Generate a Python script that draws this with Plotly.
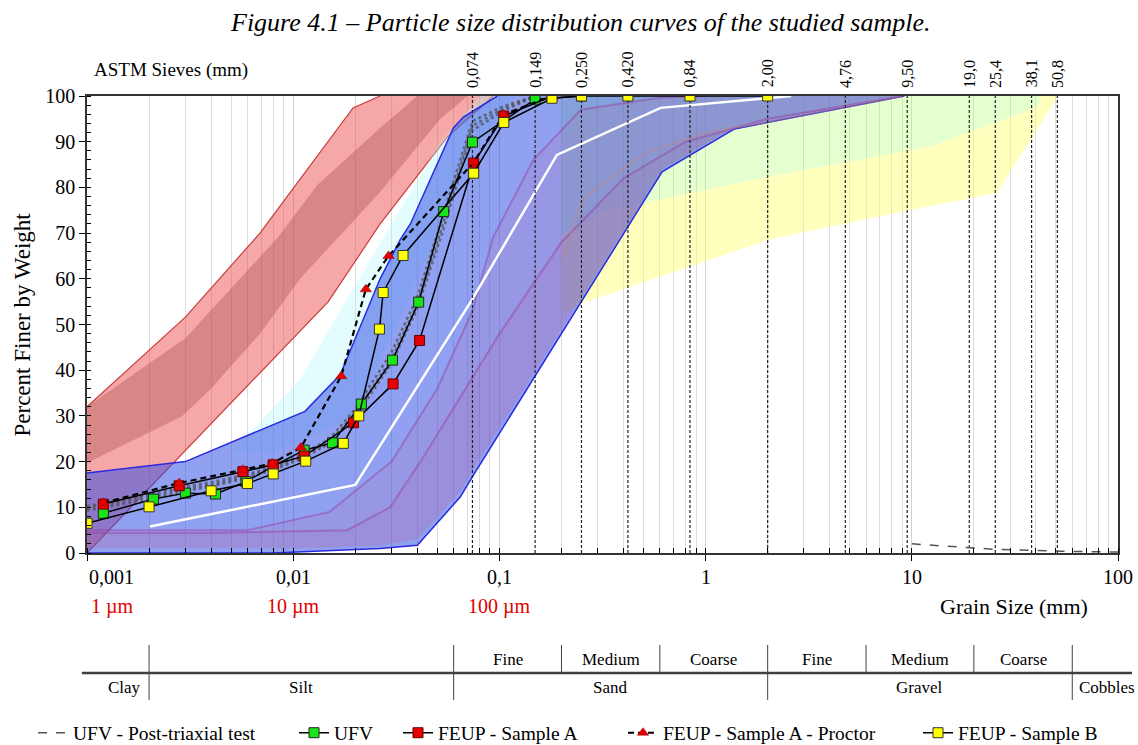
import math
import plotly.graph_objects as go

# ---------------- data ----------------
sieve_mm = [0.074, 0.149, 0.250, 0.420, 0.84, 2.00, 4.76, 9.50, 19.0, 25.4, 38.1, 50.8]
sieve_lbl = ["0,074", "0,149", "0,250", "0,420", "0,84", "2,00", "4,76", "9,50", "19,0", "25,4", "38,1", "50,8"]

grain_ticks = [0.001, 0.01, 0.1, 1, 10, 100]
grain_tick_lbl = ["0,001", "0,01", "0,1", "1", "10", "100"]
micron_pos = [0.001, 0.01, 0.1]
micron_lbl = ["1 µm", "10 µm", "100 µm"]

full_bounds = [0.002, 0.06, 2.0, 60.0]
sub_bounds = [0.2, 0.6, 6.0, 20.0]
sub_lbl = ["Fine", "Medium", "Coarse", "Fine", "Medium", "Coarse"]
sub_lo = [0.06, 0.2, 0.6, 2.0, 6.0, 20.0]
sub_hi = [0.2, 0.6, 2.0, 6.0, 20.0, 60.0]
main_lbl = ["Clay", "Silt", "Sand", "Gravel", "Cobbles"]
main_lo = [0.001, 0.002, 0.06, 2.0, 60.0]
main_hi = [0.0023, 0.06, 2.0, 60.0, 130.0]

# measured curves
ufv_d = [0.0012, 0.0021, 0.003, 0.0042, 0.0059, 0.008, 0.0113, 0.0155, 0.0214, 0.0303, 0.0406, 0.0537, 0.074, 0.149, 0.25]
ufv_p = [8.7, 11.8, 13.1, 12.9, 15.6, 19.0, 22.5, 24.1, 32.6, 42.2, 54.9, 74.7, 89.9, 99.3, 100]

feupA_d = [0.0012, 0.0028, 0.0057, 0.008, 0.0113, 0.0196, 0.0305, 0.041, 0.075, 0.105, 0.18]
feupA_p = [10.7, 14.7, 17.8, 19.3, 21.2, 28.5, 37.0, 46.5, 85.3, 95.6, 100]

proctor_d = [0.0012, 0.0028, 0.0057, 0.0079, 0.0109, 0.0171, 0.0225, 0.029, 0.075, 0.105, 0.18]
proctor_p = [11.0, 15.3, 18.2, 19.6, 23.1, 38.7, 57.7, 65.0, 85.5, 96.0, 100]

feupB_d = [0.001, 0.002, 0.004, 0.006, 0.008, 0.0115, 0.0175, 0.0208, 0.0262, 0.0273, 0.0341, 0.075, 0.105, 0.18, 0.25, 0.42, 0.84, 2.0]
feupB_p = [6.5, 10.1, 13.6, 15.2, 17.3, 20.1, 24.0, 30.0, 49.0, 57.0, 65.1, 83.1, 94.2, 99.5, 100, 100, 100, 100]

post_d = [0.001, 0.002, 0.003, 0.004, 0.006, 0.008, 0.011, 0.015, 0.02, 0.03, 0.04, 0.055, 0.074, 0.105, 0.15]
post1_p = [10.2, 12.8, 14.5, 15.5, 17.2, 19.0, 21.5, 25.0, 31.5, 44.0, 56.0, 76.0, 94.5, 97.8, 100]
post2_p = [9.8, 12.3, 14.0, 15.0, 16.8, 18.6, 21.0, 24.4, 30.5, 42.5, 54.5, 74.0, 93.5, 97.3, 100]
post3_p = [9.3, 11.8, 13.5, 14.6, 16.4, 18.2, 20.6, 24.0, 29.8, 41.5, 53.5, 72.5, 92.5, 96.8, 100]
post_gravel_d = [10.0, 19.0, 25.4, 50.8, 100.0]
post_gravel_p = [2.0, 1.1, 0.8, 0.4, 0.2]

# reference envelopes
red_up_d = [0.001, 0.003, 0.0069, 0.0195, 0.0264]
red_up_p = [32, 51.6, 70, 97.4, 100]
red_m1_d = [0.001, 0.0029, 0.004, 0.0069, 0.0108, 0.0264, 0.0517, 0.07]
red_m1_p = [19.7, 30, 36, 48, 60, 79, 95, 100]
red_m2_d = [0.001, 0.003, 0.0084, 0.0131, 0.0264, 0.04]
red_m2_p = [32, 47, 69, 80.5, 93, 100]
red_lo_d = [0.001, 0.0148, 0.0264, 0.0559, 0.0935]
red_lo_p = [0, 55, 72, 91, 100]

cyan_d = [0.005, 0.0108, 0.0169, 0.0517, 0.0809, 0.12, 0.08, 0.04, 0.02, 0.008]
cyan_p = [22, 38, 53, 90, 100, 100, 90, 60, 30, 22]

blue_up_d = [0.001, 0.003, 0.0114, 0.0169, 0.0264, 0.033, 0.037, 0.0598, 0.0669, 0.0977]
blue_up_p = [17.5, 20, 31, 39, 60, 68.5, 72, 93, 95.4, 100]
blue_lo_d = [0.001, 0.008, 0.0264, 0.04, 0.0647, 0.074, 0.615, 1.38, 9.2]
blue_lo_p = [0, 0, 1.0, 1.7, 12.3, 16.7, 83.4, 92.8, 100]

# purple (fine-sand) band seen through the blue envelope
pur_up_d = [0.001, 0.006, 0.015, 0.03, 0.05, 0.074, 0.093, 0.146, 0.248, 0.6, 1.0]
pur_up_p = [5, 5, 9, 20, 36, 53, 69, 86, 97, 99.6, 100]
pur_mid_d = [0.001, 0.004, 0.0183, 0.0295, 0.0428, 0.0647, 0.098, 0.117, 0.2, 0.4, 0.8, 2.0, 9.0]
pur_mid_p = [4.4, 4.4, 5, 10, 21, 34, 47.3, 52.5, 68, 82, 90, 95, 100]
pur_lo_d = [0.001, 0.01, 0.0264, 0.04, 0.0647, 0.074, 0.615, 1.38, 9.2]
pur_lo_p = [1, 1, 1.6, 3, 13.5, 18, 84, 93.2, 100]
tan_d = [0.2, 0.256, 0.52, 1.0, 1.86, 3.6, 9.0]
tan_p = [64, 77.7, 87.7, 92, 94, 96.5, 100]

green_lo_d = [0.2, 0.338, 2.0, 12.4, 40.9, 42.0]
green_lo_p = [70, 75, 82.3, 89, 97.6, 100]
yellow_lo_d = [0.2, 0.253, 2.0, 9.6, 25.9, 51.1]
yellow_lo_p = [52, 54.7, 68.5, 75, 78.8, 100]

white_d = [0.00202, 0.02, 0.0736, 0.19, 0.605, 2.6]
white_p = [5.8, 14.9, 55.4, 87.1, 97.4, 100]

SERIF = "Liberation Serif"


def frac(v):
    return (math.log10(v) + 3) / 5.0


fig = go.Figure()


def poly(xu, yu, xl, yl, color, line_color=None, lw=0):
    fig.add_trace(go.Scatter(
        x=list(xu) + list(xl)[::-1], y=list(yu) + list(yl)[::-1],
        mode="lines", fill="toself", fillcolor=color,
        line=dict(color=line_color or "rgba(0,0,0,0)", width=lw),
        hoverinfo="skip", showlegend=False))


def edge(x, y, color, w=1.0, dash="solid"):
    fig.add_trace(go.Scatter(x=x, y=y, mode="lines", line=dict(color=color, width=w, dash=dash),
                             hoverinfo="skip", showlegend=False))


# gravel envelopes
poly(green_lo_d + [0.2], green_lo_p + [100], [0.2], [100], "rgba(175,255,110,0.33)")
poly(green_lo_d, green_lo_p, yellow_lo_d, yellow_lo_p, "rgba(255,255,110,0.45)")
# red (fine) band: light fill + darker inner band
poly(red_up_d, red_up_p, red_lo_d, red_lo_p, "rgba(235,60,60,0.45)")
poly(red_m2_d, red_m2_p, red_m1_d, red_m1_p, "rgba(150,60,60,0.30)")
edge(red_up_d, red_up_p, "#c83c3c", 1.2)
edge(red_lo_d, red_lo_p, "#c83c3c", 1.2)
# cyan band
fig.add_trace(go.Scatter(x=cyan_d, y=cyan_p, mode="lines", fill="toself",
                         fillcolor="rgba(175,245,250,0.35)", line=dict(width=0, color="rgba(0,0,0,0)"),
                         hoverinfo="skip", showlegend=False))
# blue envelope
poly(blue_up_d, blue_up_p, blue_lo_d, blue_lo_p, "rgba(45,75,230,0.52)")
edge(blue_up_d, blue_up_p, "#2a2ae0", 1.5)
edge(blue_lo_d, blue_lo_p, "#2a2ae0", 1.5)
# purple band inside blue
poly(pur_up_d, pur_up_p, pur_lo_d, pur_lo_p, "rgba(200,80,140,0.12)")
poly(pur_mid_d, pur_mid_p, pur_lo_d, pur_lo_p, "rgba(190,80,140,0.12)")
edge(pur_up_d, pur_up_p, "rgba(150,60,160,0.45)", 2)
edge(pur_mid_d, pur_mid_p, "rgba(150,60,160,0.45)", 2)
edge(tan_d, tan_p, "rgba(190,130,130,0.45)", 2)
# white curve
edge(white_d, white_p, "white", 2.5)

# sieve lines
sx, sy = [], []
for s in sieve_mm:
    sx += [s, s, None]
    sy += [0, 100, None]
fig.add_trace(go.Scatter(x=sx, y=sy, mode="lines", line=dict(color="#222222", width=1.2, dash="3px,2px"),
                         hoverinfo="skip", showlegend=False))

# post-triaxial curves
for p in [post1_p, post2_p, post3_p]:
    fig.add_trace(go.Scatter(x=post_d, y=p, mode="lines",
                             line=dict(color="rgba(80,80,80,0.75)", width=2.5, dash="dot"),
                             name="UFV - Post-triaxial test", legendgroup="post",
                             showlegend=False, hoverinfo="skip"))
fig.add_trace(go.Scatter(x=post_gravel_d, y=post_gravel_p, mode="lines",
                         line=dict(color="#555555", width=1.5, dash="dash"),
                         name="UFV - Post-triaxial test", legendgroup="post", showlegend=True,
                         legend="legend"))

fig.add_trace(go.Scatter(x=ufv_d, y=ufv_p, mode="lines+markers", name="UFV", legend="legend2",
                         line=dict(color="black", width=1.5),
                         marker=dict(symbol="square", size=10, color="#19e619",
                                     line=dict(color="#222", width=1))))
fig.add_trace(go.Scatter(x=feupA_d, y=feupA_p, mode="lines+markers", name="FEUP - Sample A", legend="legend3",
                         line=dict(color="black", width=1.5),
                         marker=dict(symbol="square", size=10, color="#e60000",
                                     line=dict(color="#600", width=1))))
fig.add_trace(go.Scatter(x=proctor_d, y=proctor_p, mode="lines+markers", name="FEUP - Sample A - Proctor",
                         legend="legend4",
                         line=dict(color="black", width=2.2, dash="6px,4px"),
                         marker=dict(symbol="triangle-up", size=10, color="#e60000",
                                     line=dict(color="#900", width=0.5))))
fig.add_trace(go.Scatter(x=feupB_d, y=feupB_p, mode="lines+markers", name="FEUP - Sample B", legend="legend5",
                         line=dict(color="black", width=1.5),
                         marker=dict(symbol="square", size=10, color="#ffff00",
                                     line=dict(color="#333", width=1))))

# ---------------- annotations ----------------
ann = []
ann.append(dict(text="<i>Figure 4.1 – Particle size distribution curves of the studied sample.</i>",
                xref="paper", yref="paper", x=0.479, y=(553 - 22) / 457, showarrow=False,
                font=dict(family=SERIF, size=26, color="black"), xanchor="center", yanchor="middle"))
ann.append(dict(text="ASTM Sieves (mm)", xref="paper", yref="paper", x=0.005, y=(553 - 70) / 457,
                showarrow=False, xanchor="left", yanchor="middle",
                font=dict(family=SERIF, size=19, color="black")))
ann.append(dict(text="Percent Finer by Weight", xref="paper", yref="paper", x=(22 - 87) / 1031, y=0.5,
                textangle=-90, showarrow=False, xanchor="center", yanchor="middle",
                font=dict(family=SERIF, size=23, color="black")))
for s, l in zip(sieve_mm, sieve_lbl):
    ann.append(dict(text=l, xref="paper", yref="paper", x=frac(s), y=1.014, textangle=-90,
                    showarrow=False, xanchor="center", yanchor="bottom",
                    font=dict(family=SERIF, size=16, color="black")))
for v, l in zip(grain_ticks, grain_tick_lbl):
    ann.append(dict(text=l, xref="paper", yref="paper", x=frac(v), y=-0.053, showarrow=False,
                    xanchor="left" if v == grain_ticks[0] else "center", yanchor="middle",
                    font=dict(family=SERIF, size=20, color="black")))
for v, l in zip(micron_pos, micron_lbl):
    ann.append(dict(text=l, xref="paper", yref="paper", x=frac(v) + (0.002 if v == micron_pos[0] else 0),
                    y=-0.118, showarrow=False,
                    xanchor="left" if v == micron_pos[0] else "center", yanchor="middle",
                    font=dict(family=SERIF, size=20, color="#e00000")))
ann.append(dict(text="Grain Size (mm)", xref="paper", yref="paper", x=0.973, y=-0.118, showarrow=False,
                xanchor="right", yanchor="middle", font=dict(family=SERIF, size=22, color="black")))
for l, lo, hi in zip(sub_lbl, sub_lo, sub_hi):
    ann.append(dict(text=l, xref="paper", yref="paper", x=(frac(lo) + frac(hi)) / 2, y=-0.234,
                    showarrow=False, xanchor="center", yanchor="middle",
                    font=dict(family=SERIF, size=17, color="black")))
for l, lo, hi in zip(main_lbl, main_lo, main_hi):
    ann.append(dict(text=l, xref="paper", yref="paper", x=(frac(lo) + frac(hi)) / 2, y=-0.295,
                    showarrow=False, xanchor="center", yanchor="middle",
                    font=dict(family=SERIF, size=17, color="black")))

shapes = []
shapes.append(dict(type="line", xref="paper", yref="paper", x0=-0.005, x1=1.0136, y0=-0.2626, y1=-0.2626,
                   line=dict(color="#404040", width=2.5)))
for b in full_bounds:
    shapes.append(dict(type="line", xref="paper", yref="paper", x0=frac(b), x1=frac(b), y0=-0.2013, y1=-0.3217,
                       line=dict(color="#404040", width=1)))
for b in sub_bounds:
    shapes.append(dict(type="line", xref="paper", yref="paper", x0=frac(b), x1=frac(b), y0=-0.2013, y1=-0.2626,
                       line=dict(color="#404040", width=1)))

leg_text_x = [75, 336, 440, 665, 960]
leg_common = dict(orientation="h", yref="paper", y=-0.394, xref="container", xanchor="left", yanchor="middle",
                  font=dict(family=SERIF, size=19.5, color="black"), itemwidth=30, bgcolor="rgba(0,0,0,0)")
legends = {}
for i, tx in enumerate(leg_text_x):
    key = "legend" if i == 0 else "legend%d" % (i + 1)
    legends[key] = dict(leg_common, x=(tx - 42) / 1138.0)

fig.update_layout(
    width=1138, height=745,
    margin=dict(l=87, r=20, t=96, b=192, autoexpand=False),
    paper_bgcolor="white", plot_bgcolor="white",
    annotations=ann, shapes=shapes,
    font=dict(family=SERIF, color="black"),
    showlegend=True,
    xaxis=dict(type="log", range=[-3, 2], dtick=1, showticklabels=False,
               showgrid=True, gridcolor="#d4d4d4", gridwidth=1,
               ticks="outside", ticklen=6, tickcolor="black",
               minor=dict(dtick="D1", showgrid=True, gridcolor="#dcdcdc", gridwidth=1,
                          ticks="inside", ticklen=5, tickcolor="black"),
               showline=True, linecolor="#333333", linewidth=1.5, mirror=True, zeroline=False),
    yaxis=dict(range=[0, 100], dtick=10, showgrid=False, zeroline=False,
               ticks="outside", ticklen=6, tickcolor="black",
               minor=dict(dtick=2, ticks="inside", ticklen=4, tickcolor="black"),
               tickfont=dict(family=SERIF, size=20),
               showline=True, linecolor="#333333", linewidth=1.5, mirror=True),
    **legends,
)

fig.write_html("out.html")
